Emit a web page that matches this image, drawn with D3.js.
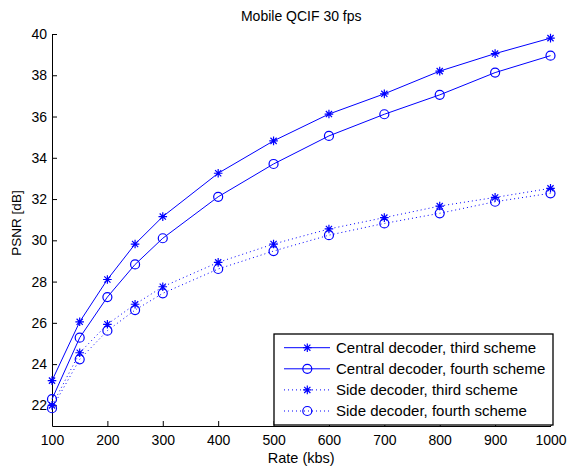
<!DOCTYPE html>
<html>
<head>
<meta charset="utf-8">
<script src="https://cdn.jsdelivr.net/npm/d3@7"></script>
<style>
  body { margin: 0; background: #fff; }
  text { font-family: "Liberation Sans", Arial, sans-serif; fill: #000; }
</style>
</head>
<body>
<div class="chart"></div>
<script>
// data
var rates = [100, 150, 200, 250, 300, 400, 500, 600, 700, 800, 900, 1000];
var centralThird  = [23.2, 26.05, 28.1, 29.82, 31.15, 33.25, 34.82, 36.12, 37.1, 38.2, 39.05, 39.8];
var centralFourth = [22.3, 25.28, 27.25, 28.83, 30.1, 32.11, 33.7, 35.06, 36.11, 37.05, 38.13, 38.95];
var sideThird     = [22.0, 24.55, 25.93, 26.9, 27.75, 28.93, 29.82, 30.55, 31.1, 31.66, 32.08, 32.52];
var sideFourth    = [21.86, 24.23, 25.62, 26.62, 27.43, 28.61, 29.48, 30.25, 30.82, 31.31, 31.87, 32.28];
var seriesNames = ["Central decoder, third scheme", "Central decoder, fourth scheme",
                   "Side decoder, third scheme", "Side decoder, fourth scheme"];
var xTicks = [100, 200, 300, 400, 500, 600, 700, 800, 900, 1000];
var yTicks = [22, 24, 26, 28, 30, 32, 34, 36, 38, 40];

var series = [
  {name: seriesNames[0], values: centralThird,  marker: "star",   dash: null},
  {name: seriesNames[1], values: centralFourth, marker: "circle", dash: null},
  {name: seriesNames[2], values: sideThird,     marker: "star",   dash: "1,3"},
  {name: seriesNames[3], values: sideFourth,    marker: "circle", dash: "1,3"}
];

var W = 568, H = 468;
var margin = {top: 34, right: 17.5, bottom: 42, left: 52},
    width = W - margin.left - margin.right,
    height = H - margin.top - margin.bottom;

var x = d3.scaleLinear().domain([100, 1000]).range([0, width]);
var y = d3.scaleLinear().domain([21, 40]).range([height, 0]);

var svg = d3.select(".chart").append("svg")
  .attr("width", W).attr("height", H)
  .append("g")
  .attr("transform", "translate(" + margin.left + "," + margin.top + ")");

// axes, ticks pointing inward
var xAxis = svg.append("g")
  .attr("transform", "translate(0," + height + ")")
  .call(d3.axisBottom(x).tickValues(xTicks).tickFormat(d3.format("d"))
    .tickSize(-5).tickPadding(9).tickSizeOuter(0));
var yAxis = svg.append("g")
  .call(d3.axisLeft(y).tickValues(yTicks).tickSize(-5).tickPadding(5).tickSizeOuter(0));
[xAxis, yAxis].forEach(function(a) {
  a.selectAll("text").style("font-size", "14px").attr("fill", "#000");
  a.select(".domain").attr("stroke", "#000");
  a.selectAll(".tick line").attr("stroke", "#000");
});

var line = d3.line()
  .x(function(d, i) { return x(rates[i]); })
  .y(function(d) { return y(d); });

function drawMarker(g, type, cx, cy) {
  if (type == "circle") {
    g.append("circle").attr("cx", cx).attr("cy", cy).attr("r", 4.5)
      .attr("fill", "none").attr("stroke", "blue").attr("stroke-width", 1.2);
  } else {
    var r = 4.3, d = r * 0.72;
    var p = "M" + cx + "," + (cy - r) + "V" + (cy + r) +
            "M" + (cx - d) + "," + (cy - d) + "L" + (cx + d) + "," + (cy + d) +
            "M" + (cx - d) + "," + (cy + d) + "L" + (cx + d) + "," + (cy - d) +
            "M" + (cx - r) + "," + cy + "H" + (cx + r);
    g.append("path").attr("d", p).attr("stroke", "blue").attr("stroke-width", 1.2).attr("fill", "none");
  }
}

series.forEach(function(s) {
  var g = svg.append("g");
  g.append("path")
    .datum(s.values)
    .attr("d", line)
    .attr("fill", "none")
    .attr("stroke", "blue")
    .attr("stroke-width", 1)
    .attr("stroke-dasharray", s.dash);
  s.values.forEach(function(v, i) { drawMarker(g, s.marker, x(rates[i]), y(v)); });
});

// title and labels
svg.append("text")
  .attr("x", width / 2).attr("y", -13)
  .attr("text-anchor", "middle").style("font-size", "14px")
  .text("Mobile QCIF 30 fps");
svg.append("text")
  .attr("x", width / 2).attr("y", height + 37)
  .attr("text-anchor", "middle").style("font-size", "14.5px")
  .text("Rate (kbs)");
svg.append("text")
  .attr("transform", "translate(" + (-31.5) + "," + (height / 2 - 7) + ") rotate(-90)")
  .attr("text-anchor", "middle").style("font-size", "13.5px")
  .text("PSNR [dB]");

// legend
var lx = 222, ly = 300, lw = 279, lh = 91;
var legend = svg.append("g").attr("transform", "translate(" + lx + "," + ly + ")");
legend.append("rect")
  .attr("width", lw).attr("height", lh)
  .attr("fill", "#fff").attr("stroke", "#000").attr("stroke-width", 1.3);
series.forEach(function(s, i) {
  var row = legend.append("g").attr("transform", "translate(0," + (13.7 + i * 21.1) + ")");
  row.append("line").attr("x1", 10).attr("x2", 56).attr("y1", 0).attr("y2", 0)
    .attr("stroke", "blue").attr("stroke-width", 1).attr("stroke-dasharray", s.dash);
  drawMarker(row, s.marker, 33.3, 0);
  row.append("text").attr("x", 62).attr("dy", "0.35em")
    .style("font-size", "15px").text(s.name);
});
</script>
</body>
</html>
